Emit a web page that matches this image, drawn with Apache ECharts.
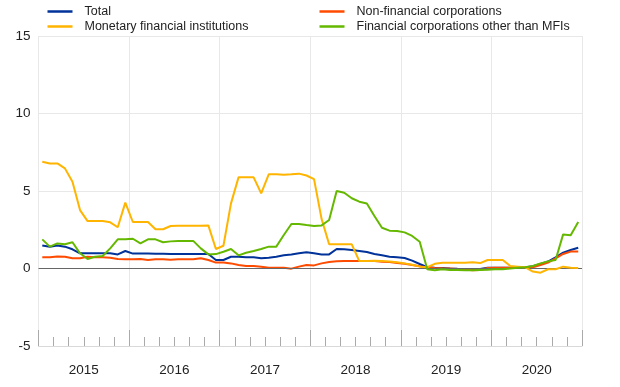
<!DOCTYPE html>
<html>
<head>
<meta charset="utf-8">
<script src="https://cdn.jsdelivr.net/npm/echarts@6/dist/echarts.min.js"></script>
<style>html,body{margin:0;padding:0;background:#fff;}#c{width:620px;height:387px;}</style>
</head>
<body>
<div id="c"></div>
<script>
var years = ['2015','2016','2017','2018','2019','2020'];
var months = [];
years.forEach(function(y){ for (var m = 1; m <= 12; m++) months.push(y + '-' + (m < 10 ? '0' + m : m)); });

var yTicks = [-5, 0, 5, 10, 15];

var total = [1.49,1.41,1.49,1.41,1.24,0.98,0.98,0.98,0.98,0.98,0.91,1.13,
             0.96,0.96,0.96,0.95,0.95,0.94,0.93,0.93,0.93,0.93,0.93,0.55,
             0.55,0.76,0.76,0.72,0.72,0.66,0.70,0.76,0.85,0.91,0.98,1.05,
             0.98,0.91,0.91,1.26,1.24,1.19,1.13,1.06,0.93,0.85,0.76,0.72,
             0.68,0.51,0.29,0.08,0.05,0.03,0.00,-0.02,-0.03,-0.05,-0.03,0.05,
             0.05,0.05,0.05,0.05,0.08,0.15,0.30,0.45,0.72,1.02,1.19,1.34];

var mfi = [6.89,6.78,6.78,6.46,5.60,3.77,3.06,3.06,3.06,2.98,2.66,4.25,
           3.00,3.00,3.00,2.53,2.53,2.74,2.76,2.76,2.76,2.76,2.78,1.26,
           1.47,4.20,5.88,5.88,5.88,4.85,6.08,6.08,6.05,6.08,6.12,6.00,
           5.77,3.20,1.56,1.56,1.56,1.56,0.48,0.48,0.50,0.48,0.45,0.40,
           0.33,0.24,0.12,0.08,0.30,0.37,0.37,0.37,0.37,0.40,0.35,0.55,
           0.55,0.55,0.16,0.12,0.08,-0.20,-0.27,-0.05,-0.05,0.12,0.05,0.03];

var nfc = [0.72,0.72,0.78,0.76,0.66,0.66,0.76,0.72,0.72,0.70,0.61,0.59,
           0.59,0.61,0.55,0.59,0.59,0.57,0.59,0.59,0.59,0.66,0.55,0.38,
           0.38,0.33,0.23,0.16,0.16,0.12,0.05,0.05,0.05,-0.01,0.12,0.23,
           0.20,0.33,0.42,0.46,0.48,0.48,0.48,0.48,0.48,0.44,0.42,0.36,
           0.31,0.23,0.14,0.06,0.03,0.01,0.00,-0.03,-0.06,-0.12,-0.10,0.03,
           0.05,0.05,0.05,0.05,0.05,0.08,0.23,0.38,0.66,0.94,1.09,1.10];

var ofc = [1.88,1.41,1.62,1.56,1.69,0.98,0.61,0.76,0.81,1.30,1.88,1.88,
           1.92,1.62,1.88,1.88,1.69,1.75,1.78,1.78,1.78,1.30,0.91,0.93,
           1.08,1.26,0.85,1.02,1.13,1.26,1.41,1.41,2.16,2.87,2.87,2.80,
           2.74,2.78,3.13,5.00,4.89,4.53,4.31,4.20,3.39,2.63,2.44,2.42,
           2.33,2.10,1.73,-0.05,-0.12,-0.05,-0.10,-0.10,-0.12,-0.12,-0.10,-0.08,
           -0.05,-0.05,0.00,0.05,0.08,0.16,0.33,0.46,0.55,2.20,2.14,3.00];

var names = ['Total','Non-financial corporations','Monetary financial institutions','Financial corporations other than MFIs'];
var colors = ['#003299','#ff4b00','#ffb400','#65b800'];
var values = [total, nfc, mfi, ofc];

var chart = echarts.init(document.getElementById('c'), null, {renderer:'canvas'});
var FONT = 'Liberation Sans, Arial, sans-serif';

function legend(i, left, top) {
  return {
    data: [names[i]], left: left, top: top, padding: 0,
    icon: 'rect', itemWidth: 25, itemHeight: 2.5, itemGap: 0,
    textStyle: { fontFamily: FONT, fontSize: 12.5, color: '#222', padding: [0,0,0,7] },
    selectedMode: false
  };
}

var series = values.map(function(v, i){
  return {
    name: names[i], type: 'line', data: v, xAxisIndex: 0,
    symbol: 'none', smooth: false,
    lineStyle: { color: colors[i], width: 2 },
    itemStyle: { color: colors[i] },
    z: 3 + i
  };
});
// zero line
series.push({
  type: 'line', data: [], xAxisIndex: 0, silent: true,
  markLine: { silent: true, symbol: 'none', label: { show: false },
    lineStyle: { color: '#666', width: 1.2, type: 'solid' },
    data: [{ yAxis: 0 }] },
  z: 10
});

chart.setOption({
  animation: false,
  backgroundColor: '#fff',
  grid: { left: 38.5, right: 38, top: 36, bottom: 41, containLabel: false },
  legend: [legend(0, 47.5, 5), legend(2, 47.5, 20), legend(1, 319.5, 5), legend(3, 319.5, 20)],
  xAxis: [
    { type: 'category', data: months, boundaryGap: true, position: 'bottom',
      axisLine: { show: true, onZero: false, lineStyle: { color: '#d9d9d9', width: 1 } },
      axisTick: { show: true, inside: true, length: 9, interval: 1, lineStyle: { color: '#aaa' } },
      axisLabel: { show: false }, splitLine: { show: false } },
    { type: 'category', data: years, boundaryGap: true, position: 'bottom',
      axisLine: { show: false, onZero: false },
      axisTick: { show: true, inside: true, length: 16, lineStyle: { color: '#aaa' } },
      axisLabel: { show: true, fontFamily: FONT, fontSize: 13.5, color: '#222', margin: 17 },
      splitLine: { show: true, lineStyle: { color: '#e8e8e8', width: 1 } } }
  ],
  yAxis: {
    type: 'value', min: yTicks[0], max: yTicks[yTicks.length-1], interval: 5,
    axisLine: { show: false }, axisTick: { show: false },
    axisLabel: { fontFamily: FONT, fontSize: 13.5, color: '#222', margin: 8 },
    splitLine: { show: true, lineStyle: { color: '#e8e8e8', width: 1 } }
  },
  series: series
});
</script>
</body>
</html>
